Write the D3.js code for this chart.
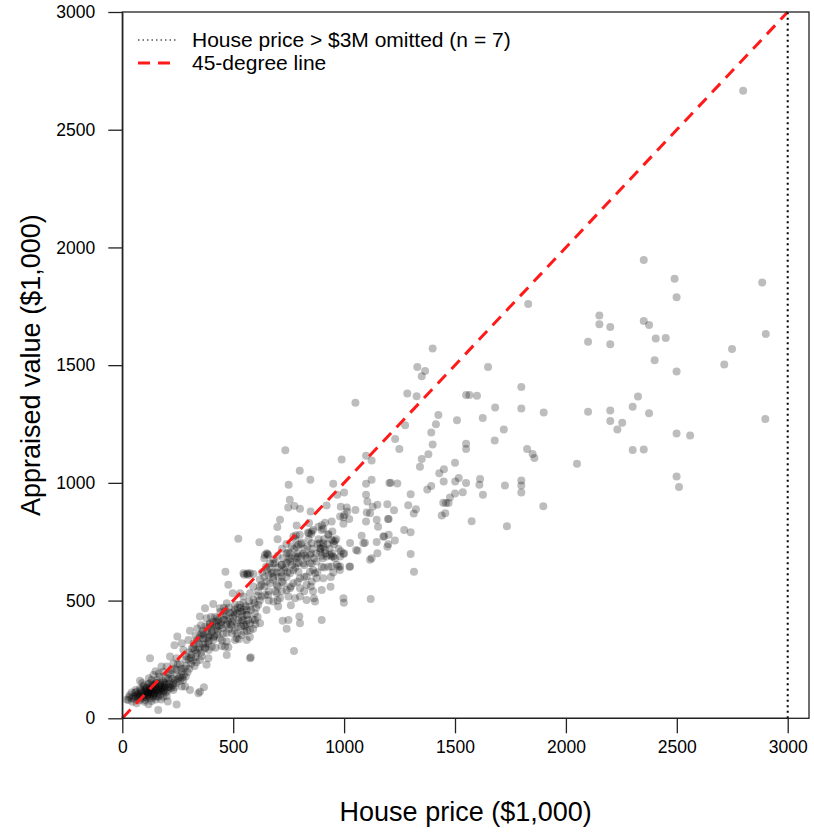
<!DOCTYPE html>
<html>
<head>
<meta charset="utf-8">
<script src="https://cdn.jsdelivr.net/npm/d3@7"></script>
<style>
  body { margin: 0; background: #fff; }
  text { font-family: "Liberation Sans", Arial, Helvetica, sans-serif; fill: #000; }
</style>
</head>
<body>
<script>
"use strict";

// Width and height
let w = 814;
let h = 836;

// [house price, appraised value], both in $1,000
let pricey = [
    [2799, 2665], [2351, 1947], [2490, 1867], [2885, 1851], [2499, 1788], [2151, 1711],
    [2151, 1674], [2200, 1662], [2351, 1687], [2375, 1671], [2901, 1632], [2100, 1599],
    [2200, 1589], [2405, 1613], [2450, 1615], [2749, 1569], [2714, 1503], [2400, 1521],
    [2499, 1473], [2325, 1367], [2301, 1323], [1900, 1299], [2100, 1302], [2200, 1307],
    [2375, 1296], [2899, 1271], [2200, 1263], [2254, 1255], [2232, 1227], [2499, 1210],
    [2560, 1201], [2301, 1140], [2351, 1142], [2050, 1081], [2499, 1027], [2510, 982],
    [1898, 901], [1830, 1760]
];

let upper = [
    [1399, 1571], [1330, 1492], [1365, 1475], [1350, 1453], [1649, 1492], [1285, 1380],
    [1327, 1368], [1550, 1373], [1565, 1373], [1599, 1370], [1799, 1407], [1681, 1320],
    [1799, 1316], [1425, 1288], [1509, 1266], [1625, 1276], [1414, 1249], [1275, 1245],
    [1720, 1227], [1393, 1214], [1230, 1186], [1679, 1180], [1399, 1163], [1550, 1166],
    [1550, 1144], [1249, 1144], [1825, 1144], [1850, 1123], [1858, 1106], [1380, 1122],
    [1350, 1101], [1342, 1068], [1500, 1085], [1450, 1058], [1429, 1041], [1517, 1021],
    [1501, 1006], [1449, 1006], [1613, 1016], [1610, 992], [1550, 999], [1210, 1000],
    [1240, 997], [1393, 987], [1375, 972], [1799, 1010], [1799, 989], [1799, 959],
    [1725, 989], [1535, 960], [1500, 955], [1626, 950], [1300, 952], [1477, 938],
    [1459, 914], [1447, 916], [1471, 914], [1289, 905], [1324, 888], [1314, 870],
    [1456, 871], [1440, 861], [1195, 909], [1225, 884], [1201, 846], [1575, 837],
    [1734, 816], [1271, 800], [1300, 790], [1201, 780], [1177, 772], [1229, 755],
    [1199, 739], [1300, 698], [1315, 623]
];

let middle = [
    [1051, 1340], [735, 1139], [989, 1099], [1099, 1115], [1124, 1095], [800, 1051],
    [848, 1013], [750, 992], [951, 996], [1124, 1013], [1099, 996], [1204, 999],
    [1000, 959], [969, 949], [755, 928], [1099, 949], [1105, 921], [748, 895],
    [776, 902], [801, 890], [921, 904], [849, 878], [985, 899], [1012, 895],
    [1014, 878], [1051, 885], [1150, 907], [1129, 899], [1102, 874], [1117, 871],
    [1001, 864], [997, 854], [711, 843], [699, 813], [786, 819], [842, 830],
    [982, 857], [1023, 846], [1147, 843], [1198, 846], [1099, 836], [1153, 814],
    [884, 814], [914, 831], [944, 836], [906, 805], [997, 826], [837, 789],
    [852, 783], [929, 783], [947, 793], [783, 778], [523, 763], [618, 748],
    [809, 746], [786, 729], [764, 731], [959, 754], [1027, 745], [1079, 775],
    [1094, 746], [1147, 749], [1180, 772], [1195, 729], [1054, 715], [1061, 712],
    [891, 744], [906, 729], [651, 701], [658, 694], [748, 704], [793, 687],
    [809, 690], [846, 694], [891, 708], [936, 694], [1000, 701], [1150, 701],
    [1124, 680], [944, 687], [921, 687], [959, 680], [1087, 744], [951, 751],
    [899, 644], [929, 644], [974, 644], [981, 630], [1024, 644], [951, 619],
    [906, 595], [899, 545], [939, 559], [997, 510], [999, 491], [1120, 507],
    [899, 418]
];

let lower = [
    [842, 786], [854, 793], [929, 779], [944, 758], [899, 800], [771, 772],
    [794, 737], [854, 744], [906, 744], [891, 722], [914, 715], [779, 687],
    [831, 680], [756, 666], [786, 659], [816, 659], [854, 659], [876, 666],
    [951, 687], [982, 687], [997, 698], [967, 652], [982, 645], [944, 645],
    [1027, 645], [1117, 673], [643, 694], [681, 676], [666, 659], [719, 652],
    [651, 630], [546, 616], [568, 609], [591, 613], [673, 616], [696, 619],
    [719, 602], [681, 588], [666, 574], [696, 567], [726, 574], [756, 616],
    [771, 630], [794, 623], [801, 595], [831, 602], [846, 623], [869, 616],
    [876, 595], [771, 574], [756, 552], [801, 552], [831, 567], [854, 581],
    [628, 567], [643, 524], [628, 517], [658, 524], [696, 531], [681, 496],
    [703, 475], [711, 510], [741, 545], [749, 517], [779, 510], [801, 517],
    [831, 503], [864, 510], [869, 496], [531, 531], [546, 517], [576, 531],
    [591, 503], [613, 482], [576, 475], [546, 460], [561, 439], [598, 446],
    [621, 404], [598, 418], [576, 404], [553, 390], [576, 375], [538, 418],
    [531, 482], [723, 414], [749, 418], [798, 432], [801, 404], [741, 380],
    [774, 286], [579, 259], [576, 616], [561, 613], [654, 698], [648, 644],
    [681, 658], [718, 651], [741, 701], [749, 673], [620, 590], [640, 600],
    [660, 610], [700, 640], [730, 630], [760, 680], [790, 700], [820, 720],
    [850, 700], [880, 740], [910, 760], [700, 690], [740, 660], [680, 600],
    [820, 650], [860, 630], [900, 690], [640, 560], [720, 580], [780, 640],
    [590, 560], [610, 520], [660, 540], [700, 560], [740, 600],
    [620, 560], [630, 620], [650, 580], [665, 640], [680, 620], [690, 660],
    [705, 600], [715, 620], [725, 680], [735, 640], [745, 620], [755, 700],
    [765, 650], [775, 720], [785, 680], [795, 660], [805, 740], [815, 700],
    [825, 690], [835, 730], [845, 660], [855, 720], [865, 680], [875, 700],
    [885, 760], [895, 720], [905, 680], [915, 700], [925, 740], [935, 720],
    [945, 700], [955, 740], [965, 760], [975, 720], [985, 710], [660, 500],
    [690, 540], [720, 540], [760, 560], [790, 580], [820, 600], [850, 560],
    [880, 620], [910, 640], [940, 600], [620, 500], [650, 460], [700, 500],
    [760, 480], [820, 540], [860, 540], [640, 680], [720, 720], [780, 760],
    [840, 760], [700, 760], [740, 740], [800, 780], [860, 800], [900, 820]
];

let cheap = [
    [465, 622], [549, 610], [565, 616], [478, 567], [498, 531], [410, 486],
    [373, 467], [350, 432], [380, 425], [440, 467], [471, 489], [508, 482],
    [531, 453], [561, 460], [395, 404], [426, 390], [456, 418], [486, 425],
    [516, 404], [546, 418], [568, 418], [305, 372], [338, 381], [358, 361],
    [388, 347], [410, 333], [440, 340], [471, 326], [516, 340], [538, 354],
    [561, 333], [373, 319], [403, 304], [448, 307], [478, 302], [508, 333],
    [248, 347], [235, 310], [268, 319], [298, 333], [275, 290], [313, 297],
    [335, 276], [358, 265], [388, 255], [350, 248], [380, 227], [471, 269],
    [463, 304], [215, 262], [245, 255], [230, 234], [125, 255], [576, 255],
    [177, 220], [200, 220], [185, 198], [215, 191], [245, 205], [268, 198],
    [260, 177], [238, 163], [275, 163], [283, 135], [207, 170], [140, 184],
    [132, 163], [155, 163], [170, 149], [192, 149], [215, 134], [230, 120],
    [185, 113], [162, 120], [125, 134], [110, 127], [95, 134], [80, 127],
    [65, 113], [50, 92], [72, 92], [95, 106], [117, 106], [140, 106],
    [162, 92], [125, 85], [102, 78], [80, 78], [65, 64], [42, 85],
    [162, 35], [205, 71], [245, 59], [268, 135], [305, 120], [350, 113],
    [368, 132], [343, 106], [27, 78], [35, 99],
    [88, 110], [105, 118], [120, 112], [135, 128], [148, 118], [112, 98],
    [128, 102], [142, 96], [158, 108], [170, 122], [98, 140], [118, 146],
    [134, 140], [150, 138], [166, 132], [180, 140], [195, 128], [210, 145],
    [186, 152], [76, 104], [60, 96], [150, 150], [125, 120], [108, 130],
    [140, 120], [170, 100], [195, 110], [215, 160], [230, 150],
    [320, 300], [345, 318], [365, 340], [390, 328], [415, 350], [430, 372],
    [455, 360], [470, 395], [495, 410], [520, 388], [540, 430], [500, 450],
    [480, 470], [455, 440], [425, 410], [400, 380], [375, 300], [330, 350],
    [355, 395], [450, 330], [400, 430], [520, 470], [545, 490], [560, 400],
    [420, 300], [300, 280], [285, 250], [260, 230], [330, 260], [390, 290],
    [45, 70], [55, 82], [68, 88], [82, 95], [90, 85], [100, 92],
    [110, 88], [122, 94], [130, 110], [138, 88], [146, 104], [155, 94],
    [165, 112], [175, 118], [182, 126], [190, 135], [198, 142], [205, 118],
    [220, 128], [228, 140], [236, 132], [244, 150], [252, 168], [260, 158],
    [270, 172], [278, 186], [286, 178], [294, 196], [302, 210], [310, 232],
    [318, 246], [326, 222], [334, 238], [342, 292], [348, 300], [356, 280],
    [364, 312], [372, 296], [380, 340], [388, 318], [396, 352], [404, 366],
    [412, 344], [420, 378], [428, 356], [436, 392], [444, 408], [452, 384],
    [460, 420], [468, 440], [476, 412], [484, 448], [492, 396], [500, 430],
    [508, 462], [516, 446], [524, 418], [532, 470], [540, 452], [548, 396],
    [556, 476], [564, 440], [572, 498], [580, 460], [588, 420], [596, 490],
    [604, 470], [612, 540], [236, 212], [250, 228], [222, 205], [210, 188],
    [196, 170], [182, 160], [168, 176], [154, 150], [140, 140], [126, 150],
    [112, 115], [98, 120], [84, 118], [70, 100], [58, 108], [100, 70],
    [118, 60], [132, 74], [150, 80], [175, 80], [185, 92], [200, 95],
    [90, 150], [80, 160], [60, 120], [42, 110], [30, 90], [20, 80],
    [150, 200], [165, 190], [120, 170], [280, 212], [290, 262], [300, 250],
    [312, 270], [322, 318], [336, 330], [352, 352], [362, 372], [374, 390],
    [384, 370], [394, 400], [410, 410], [418, 430], [432, 418], [442, 452],
    [458, 470], [470, 362], [482, 380], [494, 362], [506, 372], [518, 360],
    [526, 336], [536, 390], [550, 368], [562, 372], [575, 345], [590, 380],
    [600, 400], [610, 430],
    [95, 98], [115, 102], [135, 112], [155, 122], [175, 132], [108, 108],
    [128, 124], [148, 130], [168, 142], [188, 118], [208, 132], [226, 168],
    [246, 182], [266, 210], [288, 222], [308, 256], [328, 290], [346, 340],
    [366, 356], [386, 382], [406, 396], [426, 424], [446, 396], [466, 458],
    [486, 400], [506, 440]
];

let xTicks = [0, 500, 1000, 1500, 2000, 2500, 3000];
let yTicks = [0, 500, 1000, 1500, 2000, 2500, 3000];
let cutoff = 3000; // prices above this were left out
let legendLabels = ["House price > $3M omitted (n = 7)", "45-degree line"];

let points = cheap.concat(lower, middle, upper, pricey);

let svg = d3.select("body")
    .append("svg")
    .attr("width", w)
    .attr("height", h);

// plot region, R style: x starts at 0 and runs a bit past 3000
let x = d3.scaleLinear().domain([0, 3096]).range([122.3, 809]);
let y = d3.scaleLinear().domain([0, 3000]).range([718.3, 12]);

svg.append("g")
    .selectAll("circle")
    .data(points)
    .enter().append("circle")
    .attr("cx", d => x(d[0]))
    .attr("cy", d => y(d[1]))
    .attr("r", 4)
    .attr("fill", "#000")
    .attr("fill-opacity", 0.26);

// 45-degree line
svg.append("line")
    .attr("x1", x(0)).attr("y1", y(0))
    .attr("x2", x(3000)).attr("y2", y(3000))
    .attr("stroke", "#ff1a1a")
    .attr("stroke-width", 3)
    .attr("stroke-dasharray", "12,8");

// cutoff line
svg.append("line")
    .attr("x1", x(cutoff)).attr("y1", y(0))
    .attr("x2", x(cutoff)).attr("y2", y(3000))
    .attr("stroke", "#000")
    .attr("stroke-width", 2)
    .attr("stroke-dasharray", "2,3.5");

// box
svg.append("rect")
    .attr("x", x(0)).attr("y", y(3000))
    .attr("width", x.range()[1] - x(0))
    .attr("height", y(0) - y(3000))
    .attr("fill", "none")
    .attr("stroke", "#222")
    .attr("stroke-width", 1.3);

let xAxis = svg.append("g")
    .attr("transform", `translate(0,${y(0)})`)
    .call(d3.axisBottom(x).tickValues(xTicks).tickFormat(d3.format("d"))
        .tickSize(15).tickPadding(7).tickSizeOuter(0));
let yAxis = svg.append("g")
    .attr("transform", `translate(${x(0)},0)`)
    .call(d3.axisLeft(y).tickValues(yTicks).tickFormat(d3.format("d"))
        .tickSize(14).tickPadding(13).tickSizeOuter(0));

[xAxis, yAxis].forEach(g => {
    g.select(".domain").attr("stroke", "#222").attr("stroke-width", 1.3);
    g.selectAll(".tick line").attr("stroke", "#222").attr("stroke-width", 1.3);
    g.selectAll(".tick text")
        .style("font-family", "\"Liberation Sans\", Arial, Helvetica, sans-serif")
        .style("font-size", "17.5px")
        .attr("fill", "#000");
});
xAxis.select(".domain").attr("d", `M${x(0)},0H${x(3000)}`);

// axis titles
svg.append("text")
    .attr("x", (x(0) + 809) / 2)
    .attr("y", 821)
    .attr("text-anchor", "middle")
    .style("font-size", "27px")
    .text("House price ($1,000)");

svg.append("text")
    .attr("transform", `translate(40,${(y(0) + y(3000)) / 2}) rotate(-90)`)
    .attr("text-anchor", "middle")
    .style("font-size", "27px")
    .text("Appraised value ($1,000)");

// legend
let legend = svg.append("g");
legend.append("line")
    .attr("x1", 138).attr("x2", 177).attr("y1", 40).attr("y2", 40)
    .attr("stroke", "#000").attr("stroke-width", 1.2)
    .attr("stroke-dasharray", "1.5,3");
legend.append("line")
    .attr("x1", 138).attr("x2", 178).attr("y1", 63).attr("y2", 63)
    .attr("stroke", "#ff1a1a").attr("stroke-width", 3)
    .attr("stroke-dasharray", "12,8");
legend.selectAll("text")
    .data(legendLabels)
    .enter().append("text")
    .attr("x", 192)
    .attr("y", (d, i) => 47 + i * 23)
    .style("font-size", "21px")
    .text(d => d);
</script>
</body>
</html>
